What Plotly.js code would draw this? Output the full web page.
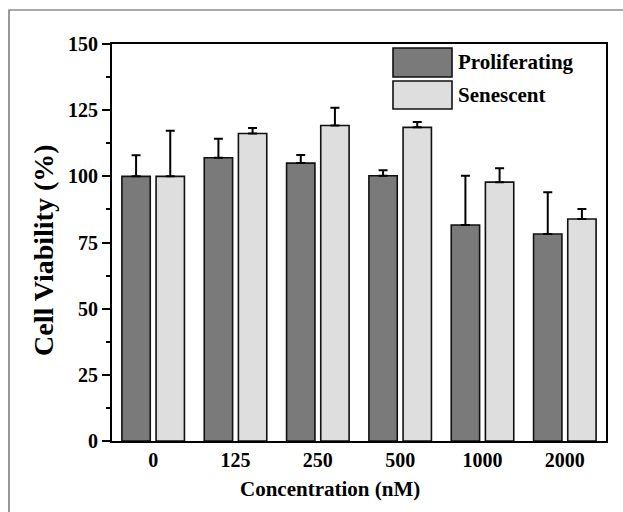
<!DOCTYPE html>
<html>
<head>
<meta charset="utf-8">
<script src="https://cdn.plot.ly/plotly-3.0.1.min.js"></script>
<style>html,body{margin:0;padding:0;background:#fff;}#chart{width:623px;height:512px;}</style>
</head>
<body>
<div id="chart"></div>
<script>
const categories = ["0", "125", "250", "500", "1000", "2000"];
const proliferating = [100, 107, 105, 100.2, 81.6, 78.2];
const proliferatingErr = [8, 7.2, 3.1, 2.1, 18.6, 15.8];
const senescent = [100, 116.2, 119.2, 118.5, 97.8, 83.9];
const senescentErr = [17.2, 2.1, 6.7, 2, 5.3, 3.8];
const seriesNames = ["Proliferating", "Senescent"];
const yTicks = [0, 25, 50, 75, 100, 125, 150];
const xTitle = "Concentration (nM)";
const yTitle = "Cell Viability (%)";

const W = 623, H = 512;
const M = {l: 112, r: 17, t: 44, b: 71};
const PW = W - M.l - M.r, PH = H - M.t - M.b;
const px = x => (x - M.l) / PW;
const py = y => (H - M.b - y) / PH;

const FONT = "Liberation Serif, Times New Roman, serif";
const DARK = "#7a7a7a", LIGHT = "#dedede";

function zeros(n){ return new Array(n).fill(0); }

const traces = [
  {
    type: "bar", name: seriesNames[0], x: categories, y: proliferating,
    marker: {color: DARK, line: {color: "#111", width: 1.6}},
    error_y: {type: "data", symmetric: false, array: proliferatingErr, arrayminus: zeros(categories.length),
              color: "#000", thickness: 2, width: 4.5},
    showlegend: false
  },
  {
    type: "bar", name: seriesNames[1], x: categories, y: senescent,
    marker: {color: LIGHT, line: {color: "#111", width: 1.6}},
    error_y: {type: "data", symmetric: false, array: senescentErr, arrayminus: zeros(categories.length),
              color: "#000", thickness: 2, width: 4.5},
    showlegend: false
  }
];

const shapes = [
  {type: "rect", xref: "paper", yref: "paper", x0: px(9), x1: px(640), y0: py(530), y1: py(10),
   line: {color: "#555", width: 1.2}, fillcolor: "rgba(0,0,0,0)", layer: "below"},
  {type: "rect", xref: "paper", yref: "paper", x0: px(393), x1: px(452), y0: py(77), y1: py(48),
   line: {color: "#111", width: 1.6}, fillcolor: DARK},
  {type: "rect", xref: "paper", yref: "paper", x0: px(393), x1: px(452), y0: py(109), y1: py(81),
   line: {color: "#111", width: 1.6}, fillcolor: LIGHT}
];

const annotations = [
  {xref: "paper", yref: "paper", x: px(456), y: py(62), xanchor: "left", yanchor: "middle",
   text: seriesNames[0], showarrow: false, font: {family: FONT, size: 21, color: "#000", weight: "bold"}},
  {xref: "paper", yref: "paper", x: px(456), y: py(95), xanchor: "left", yanchor: "middle",
   text: seriesNames[1], showarrow: false, font: {family: FONT, size: 21, color: "#000", weight: "bold"}},
  {xref: "paper", yref: "paper", x: px(43), y: py(250), xanchor: "center", yanchor: "middle",
   text: yTitle, textangle: -90, showarrow: false, font: {family: FONT, size: 28, color: "#000", weight: "bold"}},
  {xref: "paper", yref: "paper", x: px(330), y: py(489), xanchor: "center", yanchor: "middle",
   text: xTitle, showarrow: false, font: {family: FONT, size: 21, color: "#000", weight: "bold"}}
];

const layout = {
  width: W, height: H,
  margin: M,
  paper_bgcolor: "#fff", plot_bgcolor: "#fff",
  font: {family: FONT, color: "#000", weight: "bold"},
  barmode: "group", bargap: 0.17, bargroupgap: 0.17,
  showlegend: false,
  xaxis: {
    type: "category", range: [-0.5, 5.5],
    showline: true, linecolor: "#000", linewidth: 2, mirror: true,
    ticks: "", showgrid: false, zeroline: false,
    tickfont: {family: FONT, size: 20, color: "#000", weight: "bold"},
    ticklabelstandoff: 0
  },
  yaxis: {
    range: [0, 150], tickvals: yTicks, ticktext: yTicks.map(String),
    showline: true, linecolor: "#000", linewidth: 2, mirror: true,
    ticks: "outside", ticklen: 8, tickwidth: 2, tickcolor: "#000",
    minor: {ticks: "outside", ticklen: 4, tickwidth: 2, tickcolor: "#000", dtick: 12.5, showgrid: false},
    showgrid: false, zeroline: false,
    tickfont: {family: FONT, size: 20, color: "#000", weight: "bold"}
  },
  shapes: shapes,
  annotations: annotations
};

Plotly.newPlot("chart", traces, layout, {staticPlot: true, displayModeBar: false});
</script>
</body>
</html>
